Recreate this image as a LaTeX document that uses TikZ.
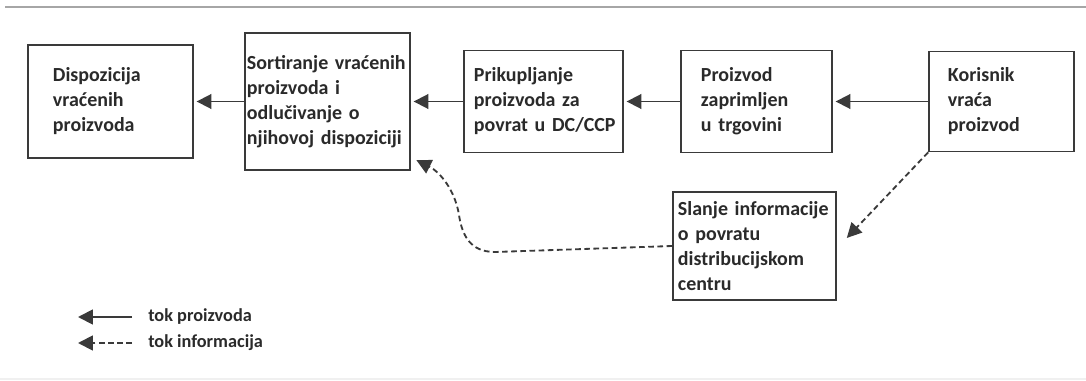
\documentclass[tikz,border=0pt]{standalone}
\usepackage{fontspec}
\setmainfont{Carlito}
\usepackage{tikz}
\usetikzlibrary{arrows.meta,positioning}
\definecolor{boxline}{HTML}{3A3A3A}
\definecolor{boxtext}{HTML}{2A2A2A}

\begin{document}
\begin{tikzpicture}[x=0.025cm, y=-0.025cm,
  procbox/.style={draw=boxline, line width=1.2pt, fill=white, align=left, text=boxtext, font=\fontsize{14.2}{17.8}\selectfont\bfseries, inner ysep=0pt},
  flow/.style={draw=boxline, line width=1.3pt, -{Triangle[length=10.5pt,width=10.5pt]}, shorten >=2pt},
  info/.style={flow, dash pattern=on 4pt off 2.5pt},
  legendtext/.style={anchor=west, text=boxtext, font=\fontsize{13}{15}\selectfont\bfseries, inner sep=0pt}
]
\useasboundingbox (0,0) rectangle (1086,381);
\draw[gray!70, line width=2pt] (5,7) -- (1086,7);
\draw[gray!12, line width=1pt] (0,379) -- (1086,379);

\node[procbox, text width=2.875cm, inner xsep=0.625cm, minimum height=2.825cm] (disp) at (110.5,101.5) {Dispozicija\\vraćenih\\proizvoda};
\node[procbox, text width=4.025cm, inner xsep=0.05cm, minimum height=3.425cm] (sort) at (327.5,101.5) {Sortiranje~vraćenih\\proizvoda i\\odlučivanje~o\\njihovoj~dispoziciji};
\node[procbox, text width=3.475cm, inner xsep=0.25cm, minimum height=2.55cm] (prik) at (543.5,101.5) {Prikupljanje\\proizvoda~za\\povrat~u~DC/CCP};
\node[procbox, text width=2.775cm, inner xsep=0.5cm, minimum height=2.55cm] (proiz) at (756.5,101.5) {Proizvod\\zaprimljen\\u~trgovini};
\node[procbox, text width=2.675cm, inner xsep=0.475cm, minimum height=2.5cm] (kor) at (1001.5,101.5) {Korisnik\\vraća\\proizvod};
\node[procbox, text width=3.825cm, inner xsep=0.125cm, minimum height=2.7cm] (slanje) at (754.5,246) {Slanje~informacije\\o~povratu\\distribucijskom\\centru};

% tok proizvoda
\draw[flow] (sort.west) -- (disp.east);
\draw[flow] (prik.west) -- (sort.east);
\draw[flow] (proiz.west) -- (prik.east);
\draw[flow] (kor.west) -- (proiz.east);

% tok informacija
\draw[info] (kor.south west) -- ([shift={(8,-6)}]slanje.east);
\draw[info] (slanje.west) -- (495,252) .. controls (470,252) and (462,235) .. (459,215)
  .. controls (455,190) and (440,172) .. ([shift={(3,-12)}]sort.south east);

% legenda
\coordinate (lgflow) at (132,317);
\coordinate (lgflowtip) at (78,317);
\coordinate (lginfo) at (132,343);
\coordinate (lginfotip) at (78,343);
\draw[flow, shorten >=0pt] (lgflow) -- (lgflowtip);
\draw[info, shorten >=0pt] (lginfo) -- (lginfotip);
\node[legendtext] (lgprod) at (148,317) {tok proizvoda};
\node[legendtext] (lginf) at (148,343) {tok informacija};
\end{tikzpicture}
\end{document}
